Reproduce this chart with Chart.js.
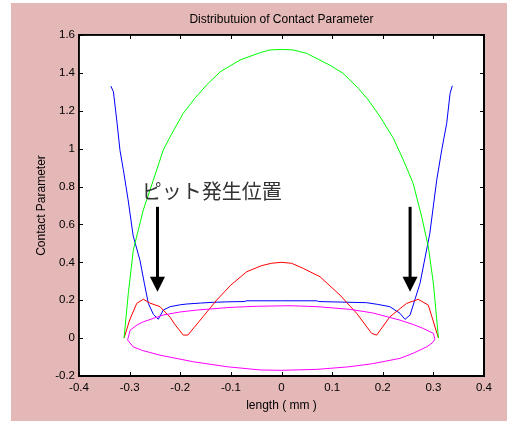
<!DOCTYPE html>
<html><head><meta charset="utf-8">
<script src="https://cdn.jsdelivr.net/npm/chart.js@4.4.0/dist/chart.umd.min.js"></script>
<style>html,body{margin:0;padding:0;background:#fff;overflow:hidden}canvas{display:block}</style>
</head><body>
<canvas id="c" width="507" height="421"></canvas>
<script>
// ---- data ----
const xTickValues = [-0.4,-0.3,-0.2,-0.1,0,0.1,0.2,0.3,0.4];
const xTickLabels = ['-0.4','-0.3','-0.2','-0.1','0','0.1','0.2','0.3','0.4'];
const yTickValues = [-0.2,0,0.2,0.4,0.6,0.8,1,1.2,1.4,1.6];
const yTickLabels = ['-0.2','0','0.2','0.4','0.6','0.8','1','1.2','1.4','1.6'];

const greenX = [-0.311,-0.3026,-0.2927,-0.273,-0.2532,-0.2335,-0.22,-0.194,-0.171,-0.148,-0.121,-0.082,-0.042,-0.023,0,0.023,0.0498,0.096,0.1215,0.152,0.1715,0.1946,0.221,0.2406,0.26,0.277,0.29,0.30,0.31];
const greenY = [0,0.236,0.465,0.676,0.834,0.993,1.063,1.187,1.266,1.336,1.406,1.468,1.507,1.521,1.524,1.521,1.503,1.44,1.398,1.318,1.257,1.169,1.055,0.94,0.817,0.64,0.482,0.289,0];

const blueX = [-0.337,-0.332,-0.325,-0.319,-0.3125,-0.303,-0.293,-0.2795,-0.271,-0.263,-0.253,-0.2434,-0.2335,-0.22,-0.2,-0.187,-0.16,-0.135,-0.1,-0.072,-0.07,0,0.07,0.073,0.12,0.168,0.19,0.214,0.234,0.244,0.254,0.2736,0.293,0.3066,0.3165,0.3263,0.333,0.3374];
const blueY = [1.33,1.30,1.14,0.99,0.89,0.73,0.54,0.41,0.29,0.183,0.125,0.10,0.148,0.166,0.176,0.18,0.185,0.189,0.192,0.193,0.197,0.197,0.197,0.193,0.19,0.187,0.178,0.166,0.131,0.099,0.122,0.289,0.553,0.834,0.993,1.134,1.292,1.332];

const redX = [-0.311,-0.30,-0.286,-0.273,-0.26,-0.24,-0.22,-0.21,-0.194,-0.185,-0.155,-0.128,-0.10,-0.069,-0.04,-0.02,0,0.02,0.043,0.076,0.1156,0.1485,0.178,0.188,0.2143,0.247,0.27,0.29,0.31];
const redY = [0,0.095,0.183,0.205,0.185,0.166,0.11,0.07,0.016,0.016,0.113,0.201,0.28,0.35,0.382,0.395,0.4,0.395,0.368,0.324,0.227,0.131,0.025,0.016,0.113,0.183,0.205,0.174,0];

const magentaX = [-0.304,-0.299,-0.285,-0.273,-0.2335,-0.2,-0.1675,-0.1017,-0.05,0.017,0.07,0.135,0.18,0.234,0.26,0.28,0.30,0.303,0.298,0.287,0.26,0.234,0.18,0.135,0.07,0,-0.0425,-0.108,-0.174,-0.24,-0.275,-0.293,-0.304];
const magentaY = [-0.01,0.042,0.07,0.086,0.122,0.138,0.148,0.162,0.168,0.171,0.166,0.152,0.133,0.095,0.072,0.051,0.025,-0.006,-0.025,-0.046,-0.08,-0.107,-0.135,-0.151,-0.165,-0.17,-0.168,-0.151,-0.125,-0.09,-0.065,-0.046,-0.01];

const noteText = 'ピット発生位置';
const noteX = -0.138, noteY = 0.776;
const arrowXs = [-0.245, 0.254];
const arrowTopY = 0.693, arrowTipY = 0.245;

const titleText = 'Distributuion of Contact Parameter';
const xTitle = 'length ( mm )';
const yTitle = 'Contact Parameter';

// ---- build ----
const pts = (xs, ys) => xs.map((x, i) => ({x, y: ys[i]}));
const FONT = '"Liberation Sans", Arial, sans-serif';

function drawFrameAndTicks(chart) {
  const {ctx, chartArea: a, scales} = chart;
  const xs = scales.x, ys = scales.y;
  const w = a.right - a.left, h = a.bottom - a.top;
  ctx.save();
  ctx.globalAlpha = 1;
  ctx.globalCompositeOperation = 'source-over';
  ctx.fillStyle = '#000000';
  ctx.fillRect(a.left - 1, a.top - 1, w + 2, 1.5);
  ctx.fillRect(a.left - 1, a.bottom - 0.5, w + 2, 1.5);
  ctx.fillRect(a.left - 1, a.top - 1, 1.5, h + 2);
  ctx.fillRect(a.right - 0.5, a.top - 1, 1.5, h + 2);
  const L = 4;
  xTickValues.forEach(v => {
    const p = Math.round(xs.getPixelForValue(v));
    ctx.fillRect(p, a.bottom - L, 1, L);
    ctx.fillRect(p, a.top, 1, L);
  });
  yTickValues.forEach(v => {
    const p = Math.round(ys.getPixelForValue(v));
    ctx.fillRect(a.left, p, L, 1);
    ctx.fillRect(a.right - L, p, L, 1);
  });
  ctx.restore();
}

const bgPlugin = {
  id: 'pinkbg',
  beforeDraw(chart) {
    const {ctx, chartArea: a} = chart;
    ctx.save();
    ctx.fillStyle = '#fff';
    ctx.fillRect(0, 0, chart.width, chart.height);
    ctx.fillStyle = '#E5B8B8';
    ctx.fillRect(11, 3, chart.width - 11, chart.height - 3);
    ctx.fillStyle = '#fff';
    ctx.fillRect(a.left, a.top, a.right - a.left, a.bottom - a.top);
    ctx.restore();
    drawFrameAndTicks(chart);
  }
};

const overlayPlugin = {
  id: 'overlay',
  afterDraw(chart) {
    const {ctx, chartArea: a, scales} = chart;
    const xs = scales.x, ys = scales.y;
    ctx.save();
    ctx.fillStyle = '#000';
    ctx.font = '12px ' + FONT;
    ctx.textAlign = 'center';
    ctx.textBaseline = 'middle';
    ctx.fillText(titleText, (a.left + a.right) / 2, 20);
    ctx.fillStyle = '#333';
    ctx.font = '20px "Noto Sans CJK JP"';
    ctx.fillText(noteText, xs.getPixelForValue(noteX), ys.getPixelForValue(noteY));
    ctx.fillStyle = '#000';
    ctx.strokeStyle = '#000';
    arrowXs.forEach(ax => {
      const px = xs.getPixelForValue(ax);
      const top = ys.getPixelForValue(arrowTopY);
      const tip = ys.getPixelForValue(arrowTipY);
      ctx.lineWidth = 3;
      ctx.beginPath();
      ctx.moveTo(px, top);
      ctx.lineTo(px, tip - 12);
      ctx.stroke();
      ctx.beginPath();
      ctx.moveTo(px - 7.5, tip - 15);
      ctx.lineTo(px + 7.5, tip - 15);
      ctx.lineTo(px, tip);
      ctx.closePath();
      ctx.fill();
    });
    ctx.restore();
    drawFrameAndTicks(chart);
  }
};

const lineDs = (label, data, color) => ({
  label, data, borderColor: color, backgroundColor: color,
  showLine: true, pointRadius: 0, borderWidth: 1, tension: 0, fill: false
});

const hiddenAxis = (pos, min, max, fit) => ({
  type: 'linear', position: pos, min, max,
  afterFit: fit,
  grid: {display: false, drawTicks: false},
  border: {display: true, color: '#000', width: 1.5},
  ticks: {display: false},
  title: {display: false}
});

new Chart(document.getElementById('c'), {
  type: 'scatter',
  data: {
    datasets: [
      lineDs('magenta', pts(magentaX, magentaY), '#FF00FF'),
      lineDs('green', pts(greenX, greenY), '#00FF00'),
      lineDs('red', pts(redX, redY), '#FF0000'),
      lineDs('blue', pts(blueX, blueY), '#0000FF')
    ]
  },
  options: {
    responsive: false,
    animation: false,
    devicePixelRatio: 1,
    layout: {padding: {left: 0, right: 23, top: 35, bottom: 0}},
    plugins: {
      legend: {display: false},
      tooltip: {enabled: false},
      title: {display: false}
    },
    scales: {
      x: {
        type: 'linear', position: 'bottom', min: -0.4, max: 0.4,
        afterBuildTicks: s => { s.ticks = xTickValues.map(v => ({value: v})); },
        afterFit: s => { s.height = 45; },
        grid: {display: false, drawTicks: false},
        border: {display: true, color: '#000', width: 1.5},
        ticks: {
          color: '#000', padding: 5, maxRotation: 0, autoSkip: false,
          font: {family: FONT, size: 11.5},
          callback: (v, i) => xTickLabels[i]
        },
        title: {display: true, text: xTitle, color: '#000',
          font: {family: FONT, size: 12}, padding: {top: 0, bottom: 8.3}}
      },
      y: {
        type: 'linear', position: 'left', min: -0.2, max: 1.6,
        afterBuildTicks: s => { s.ticks = yTickValues.map(v => ({value: v})); },
        afterFit: s => { s.width = 79; },
        grid: {display: false, drawTicks: false},
        border: {display: true, color: '#000', width: 1.5},
        ticks: {
          color: '#000', padding: 4, autoSkip: false,
          font: {family: FONT, size: 11.5},
          callback: (v, i) => yTickLabels[i]
        },
        title: {display: true, text: yTitle, color: '#000',
          font: {family: FONT, size: 12}, padding: {top: 34.8, bottom: 0}}
      },
      xTop: hiddenAxis('top', -0.4, 0.4, s => { s.height = 0; }),
      yRight: hiddenAxis('right', -0.2, 1.6, s => { s.width = 0; })
    }
  },
  plugins: [bgPlugin, overlayPlugin]
});
</script>
</body></html>
